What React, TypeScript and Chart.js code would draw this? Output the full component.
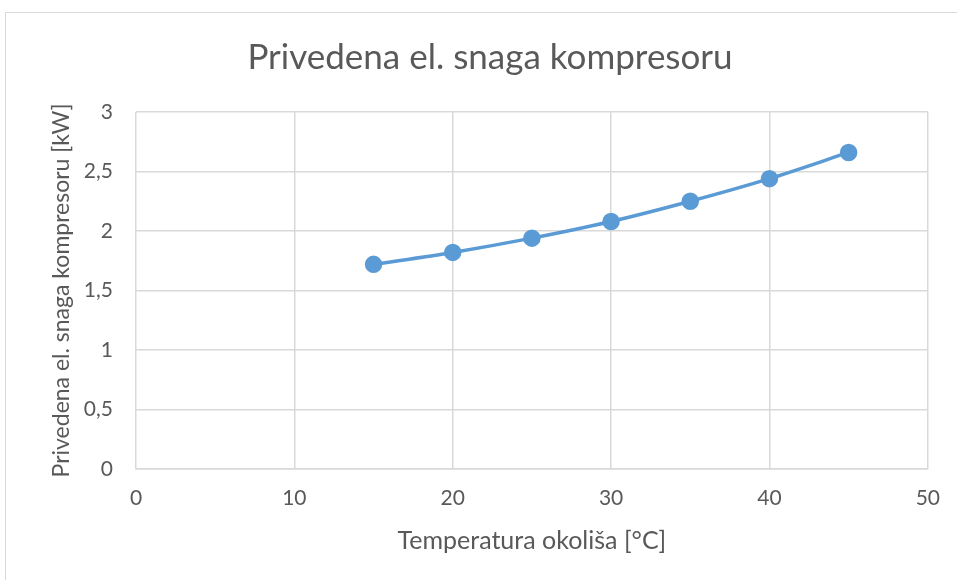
import React, { useEffect, useRef } from "react";
import { Chart, registerables } from "chart.js";

Chart.register(...registerables);

const temperatures = [15, 20, 25, 30, 35, 40, 45];
const power = [1.72, 1.82, 1.94, 2.08, 2.25, 2.44, 2.66];
const xTicks = [0, 10, 20, 30, 40, 50];
const yTicks = [0, 0.5, 1, 1.5, 2, 2.5, 3];

const chartTitle = "Privedena el. snaga kompresoru";
const xTitle = "Temperatura okoliša [°C]";
const yTitle = "Privedena el. snaga kompresoru [kW]";

const FONT = "Lato, 'Open Sans', sans-serif";
const TEXT = "#595959";
const GRID = "#d9d9d9";
const LINE = "#5b9bd5";

const centeredTitle = {
  id: "centeredTitle",
  afterDraw(chart: any) {
    const ctx = chart.ctx;
    const box = chart.titleBlock;
    if (!box) return;
    ctx.save();
    ctx.fillStyle = TEXT;
    ctx.font = `normal 35px ${FONT}`;
    ctx.textAlign = "center";
    ctx.textBaseline = "middle";
    ctx.fillText(chartTitle, 490, box.top + box.height / 2 - 16.5);
    ctx.restore();
  },
};

export default function App() {
  const ref = useRef<HTMLCanvasElement | null>(null);

  useEffect(() => {
    if (!ref.current) return;
    const chart = new Chart(ref.current, {
      type: "scatter",
      data: {
        datasets: [
          {
            data: temperatures.map((t, i) => ({ x: t, y: power[i] })),
            showLine: true,
            borderColor: LINE,
            backgroundColor: LINE,
            borderWidth: 3.5,
            pointRadius: 7,
            pointBackgroundColor: LINE,
            pointBorderColor: LINE,
            tension: 0.3,
          },
        ],
      },
      options: {
        animation: false,
        responsive: false,
        layout: { padding: { left: 0, right: 29, top: 37, bottom: 0 } },
        plugins: {
          legend: { display: false },
          tooltip: { enabled: false },
          title: {
            display: true,
            text: chartTitle,
            color: "rgba(0,0,0,0)",
            font: { family: FONT, size: 35, weight: "normal" },
            padding: { top: 0, bottom: 33 },
          },
        },
        scales: {
          x: {
            type: "linear",
            min: 0,
            max: 50,
            afterBuildTicks: (axis: any) => {
              axis.ticks = xTicks.map((v) => ({ value: v }));
            },
            afterFit: (axis: any) => {
              axis.height = 111;
            },
            ticks: {
              color: TEXT,
              font: { family: FONT, size: 21 },
              padding: 17,
              maxRotation: 0,
            },
            grid: { color: GRID, lineWidth: 1.5, drawTicks: false },
            border: { color: GRID, width: 1.5 },
            title: {
              display: true,
              text: xTitle,
              color: TEXT,
              font: { family: FONT, size: 25 },
              padding: { top: 0, bottom: 24 },
            },
          },
          y: {
            type: "linear",
            min: 0,
            max: 3,
            afterBuildTicks: (axis: any) => {
              axis.ticks = yTicks.map((v) => ({ value: v }));
            },
            afterFit: (axis: any) => {
              axis.width = 136;
            },
            ticks: {
              color: TEXT,
              font: { family: FONT, size: 21 },
              padding: 23,
              callback: (v: any) => String(v).replace(".", ","),
            },
            grid: { color: GRID, lineWidth: 1.5, drawTicks: false },
            border: { display: false },
            title: {
              display: true,
              text: yTitle,
              color: TEXT,
              font: { family: FONT, size: 23 },
              padding: { top: 48, bottom: 0 },
            },
          },
        },
      },
      plugins: [centeredTitle],
    });
    return () => chart.destroy();
  }, []);

  return (
    <div style={{ position: "absolute", left: 0, top: 0, width: 957, height: 580, background: "#fff" }}>
      <div
        style={{
          position: "absolute",
          left: 5,
          top: 12,
          width: 1000,
          height: 600,
          borderLeft: "1px solid #d9d9d9",
          borderTop: "1px solid #d9d9d9",
        }}
      />
      <canvas ref={ref} width={957} height={580} style={{ position: "absolute", left: 0, top: 0 }} />
    </div>
  );
}
